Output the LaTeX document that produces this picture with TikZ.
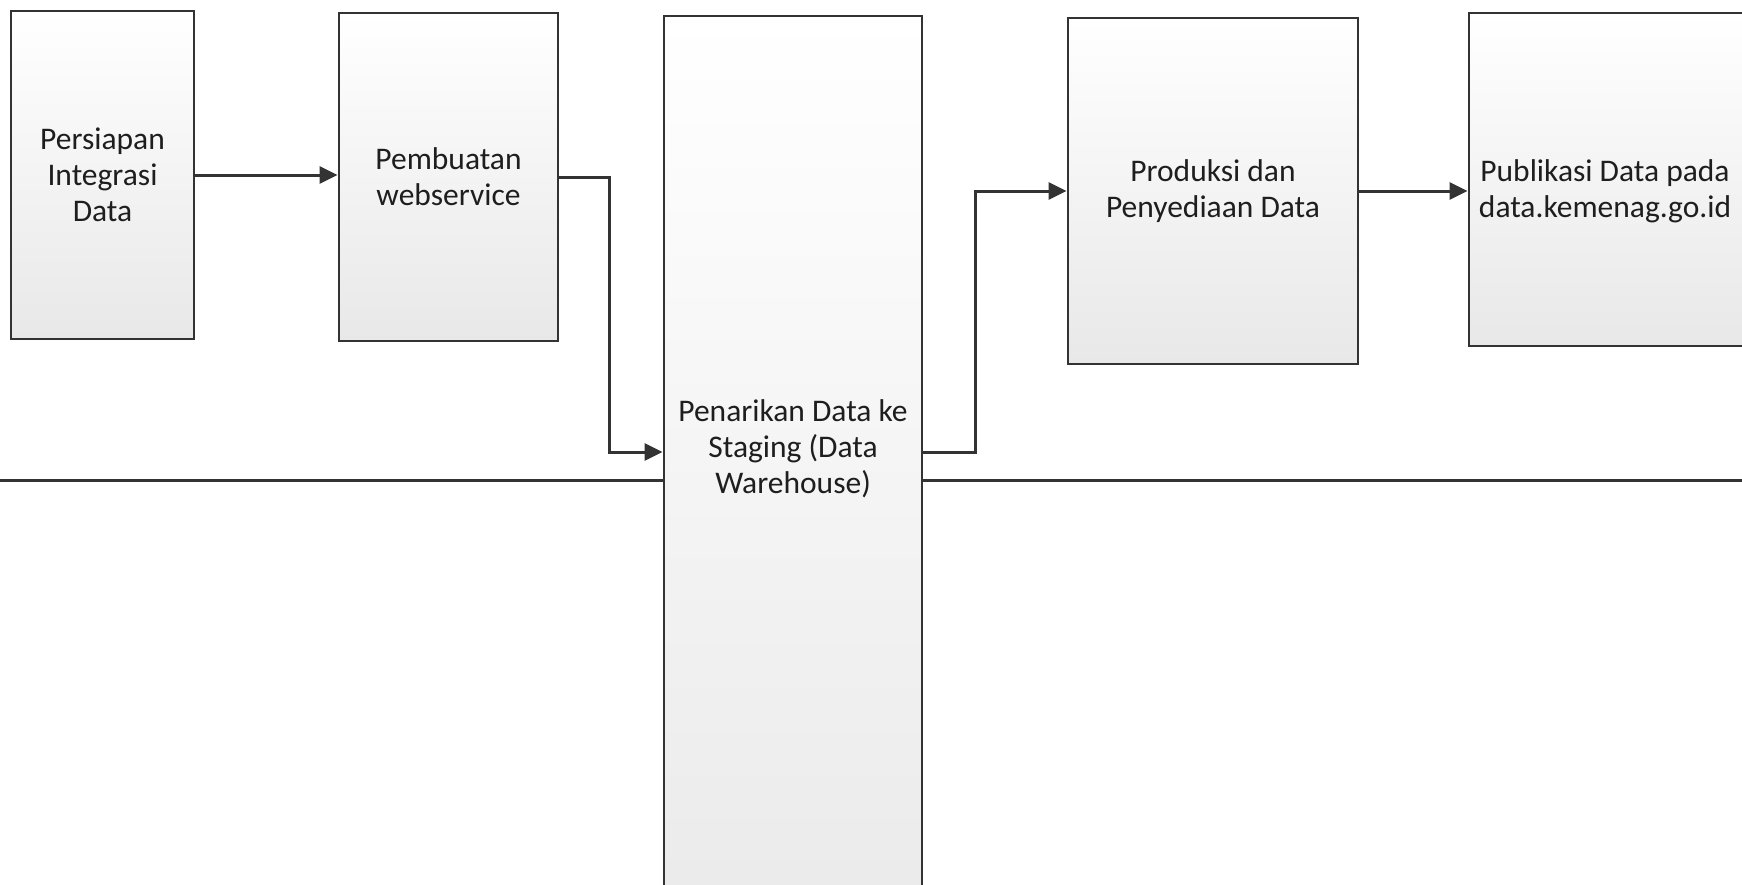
\documentclass[tikz,border=0pt]{standalone}
\usepackage{fontspec}
\setmainfont{Carlito}
\usetikzlibrary{arrows.meta}
\definecolor{lineclr}{HTML}{333333}
\definecolor{txtclr}{HTML}{1E1E1E}
\tikzset{
  box/.style={draw=lineclr, line width=2.8pt, rectangle, top color=white, bottom color=black!9,
    inner sep=0pt, align=center, text=txtclr,
    font=\fontsize{31.5}{36}\selectfont},
  lbl/.style={inner sep=0pt, align=center, text=txtclr, font=\fontsize{31.5}{36}\selectfont},
  conn/.style={draw=lineclr, line width=3pt},
  arr/.style={conn, -{Triangle[length=18pt,width=17pt]}}
}
\begin{document}
\begin{tikzpicture}[x=1pt,y=-1pt]
\useasboundingbox (0,0) rectangle (1742,884);
\fill[white] (0,0) rectangle (1742,884);
\node[box, minimum width=183pt, minimum height=328pt] (b1) at (102.5,175) {Persiapan\\Integrasi\\Data};
\node[box, minimum width=219pt, minimum height=328pt] (b2) at (448.5,177) {Pembuatan\\webservice};
\node[box, top color=white, bottom color=black!8, minimum width=258pt, minimum height=884pt] (b3) at (793,458) {};
\node[lbl] (t3) at (793,449) {Penarikan Data ke\\Staging (Data\\Warehouse)};
\node[box, minimum width=290pt, minimum height=346pt] (b4) at (1213,191) {Produksi dan\\Penyediaan Data};
\node[box, minimum width=281pt, minimum height=333pt] (b5) at (1609.5,179.5) {};
\node[lbl] (t5) at (1605,191) {Publikasi Data pada\\data.kemenag.go.id};
\coordinate (j2) at (609,452);
\coordinate (j3) at (975,452);
\coordinate (hl) at (0,480);
\coordinate (hr) at (1742,480);
\draw[arr] (b1.east) -- (b1.east -| b2.west);
\draw[arr] (b2.east) -| (j2) -- (j2 -| b3.west);
\draw[arr] (j3 -| b3.east) -- (j3) |- (b4.west);
\draw[arr] (b4.east) -- (b4.east -| b5.west);
\draw[conn] (hl) -- (hl -| b3.west);
\draw[conn] (hr -| b3.east) -- (hr);
\end{tikzpicture}
\end{document}
